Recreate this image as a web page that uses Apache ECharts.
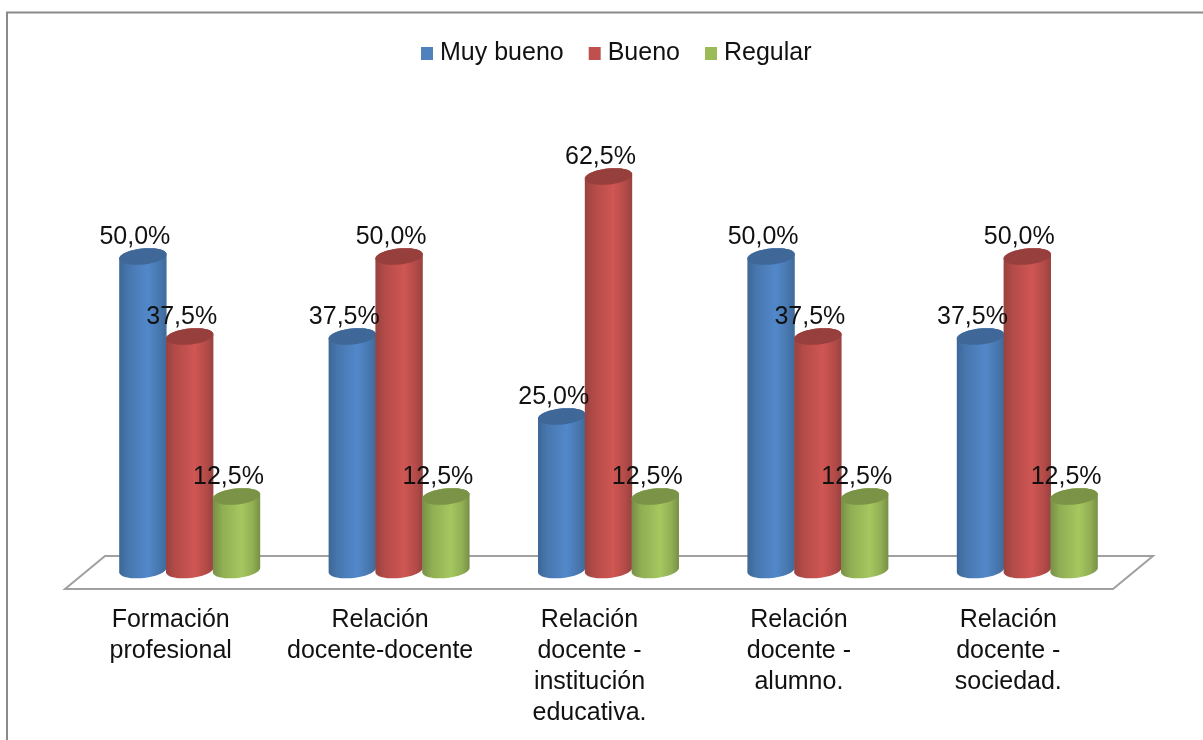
<!DOCTYPE html>
<html>
<head>
<meta charset="utf-8">
<style>html,body{margin:0;padding:0;background:#fff;overflow:hidden}#c{width:1203px;height:740px}</style>
<script src="https://cdn.jsdelivr.net/npm/echarts@6/dist/echarts.min.js"></script>
</head>
<body>
<div id="c"></div>
<script>
const categories = ["Formación\nprofesional", "Relación\ndocente-docente", "Relación\ndocente -\ninstitución\neducativa.", "Relación\ndocente -\nalumno.", "Relación\ndocente -\nsociedad."];
const muyBueno = [50.0, 37.5, 25.0, 50.0, 37.5];
const bueno = [37.5, 50.0, 62.5, 37.5, 50.0];
const regular = [12.5, 12.5, 12.5, 12.5, 12.5];
const FONT = "Liberation Sans, Arial, sans-serif";

const chart = echarts.init(document.getElementById('c'));
const G = echarts.graphic.LinearGradient;

function ellipsePts(cx, cy, rx, ry, from, to, n) {
  const tilt = -6 * Math.PI / 180, pts = [];
  for (let i = 0; i <= n; i++) {
    const t = from + (to - from) * i / n;
    const x = rx * Math.cos(t), y = ry * Math.sin(t);
    pts.push([cx + x * Math.cos(tilt) - y * Math.sin(tilt), cy + x * Math.sin(tilt) + y * Math.cos(tilt)]);
  }
  return pts;
}

function cylinder(shift, c) {
  return function (params, api) {
    const band = api.size([1, 0])[0];
    const w = band * 0.2275, rx = w / 2, ry = 8;
    const top = api.coord([api.value(0), api.value(1)]);
    const base = api.coord([api.value(0), 0]);
    const cx = top[0] + band * 0.0907 + shift * band * 0.2235;
    const topY = top[1], baseY = base[1] - 6.5;
    const body = ellipsePts(cx, baseY, rx, ry, 0, Math.PI, 30)
      .concat(ellipsePts(cx, topY, rx, ry, Math.PI, 2 * Math.PI, 30));
    const label = api.value(1).toFixed(1).replace('.', ',') + '%';
    return {
      type: 'group',
      children: [
        { type: 'polygon', shape: { points: body }, style: {
          fill: new G(0, 0, 1, 0, [
            { offset: 0, color: c.edgeL }, { offset: 0.2, color: c.mid },
            { offset: 0.6, color: c.light }, { offset: 0.85, color: c.mid }, { offset: 1, color: c.edgeR }
          ]) } },
        { type: 'polygon', shape: { points: ellipsePts(cx, topY, rx, ry, 0, 2 * Math.PI, 60) },
          style: { fill: c.top } },
        { type: 'text', z2: 100, style: {
          text: label, x: cx - 8, y: topY - 19.5, textAlign: 'center', textVerticalAlign: 'middle',
          fontSize: 25, fontFamily: FONT, fill: '#111' } }
      ]
    };
  };
}

const styles = {
  blue: { base: '#4F81BD', edgeL: '#3d6798', edgeR: '#3f6a9b', mid: '#4877af', light: '#5288ca', top: '#3f6898' },
  red: { base: '#C0504D', edgeL: '#984240', edgeR: '#984240', mid: '#b44b48', light: '#cf5653', top: '#973f3d' },
  green: { base: '#9BBB59', edgeL: '#778f46', edgeR: '#778f46', mid: '#90ae53', light: '#a5c75f', top: '#7a9347' }
};

function cylSeries(name, values, shift, c) {
  return {
    name, type: 'custom', z: 3, clip: false,
    itemStyle: { color: c.base },
    encode: { x: 0, y: 1 },
    data: values.map((v, i) => [i, v]),
    renderItem: cylinder(shift, c)
  };
}

chart.setOption({
  animation: false,
  backgroundColor: '#fff',
  graphic: [{
    type: 'polyline', silent: true,
    shape: { points: [[7, 740], [7, 12.5], [1203, 12.5]] },
    style: { stroke: '#8a8a8a', lineWidth: 2, fill: 'none' }
  }],
  legend: {
    data: ['Muy bueno', 'Bueno', 'Regular'].map(n => ({ name: n, icon: 'rect' })),
    left: 416, top: 36, itemWidth: 12, itemHeight: 13, itemGap: 25,
    textStyle: { fontSize: 25, fontFamily: FONT, color: '#111', padding: [0, 0, 0, 2] }
  },
  grid: { left: 66, right: 90, top: 128.5, bottom: 163.5 },
  xAxis: {
    type: 'category', data: categories,
    axisLine: { show: false }, axisTick: { show: false },
    axisLabel: { interval: 0, margin: 28, fontSize: 25, lineHeight: 31, fontFamily: FONT, color: '#111' }
  },
  yAxis: { type: 'value', min: 0, max: 70, show: false, splitLine: { show: false } },
  series: [
    {
      name: 'floor', type: 'custom', z: 1, silent: true, clip: false,
      data: [[0, 0]],
      renderItem: function (params) {
        const s = params.coordSys, yb = s.y + s.height;
        return { type: 'polygon', shape: { points: [
          [s.x - 1, yb + 12.5], [s.x + 39, yb - 20.5], [s.x + s.width + 40, yb - 20.5], [s.x + s.width, yb + 12.5]
        ] }, style: { fill: '#fff', stroke: '#a0a0a0', lineWidth: 2 } };
      }
    },
    cylSeries('Muy bueno', muyBueno, -1, styles.blue),
    cylSeries('Bueno', bueno, 0, styles.red),
    cylSeries('Regular', regular, 1, styles.green)
  ]
});
</script>
</body>
</html>
